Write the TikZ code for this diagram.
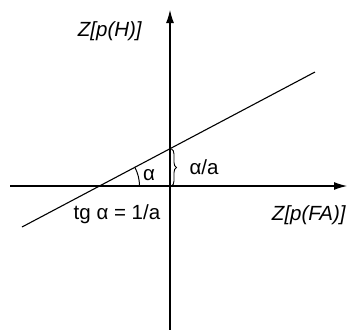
\documentclass[tikz,border=0pt]{standalone}
\usepackage{fontspec}
\setmainfont{Liberation Sans}
\usetikzlibrary{arrows.meta,decorations.pathreplacing,angles}
\begin{document}
\begin{tikzpicture}[x=1pt,y=-1pt,font=\fontsize{20.5}{24}\selectfont,
  axis/.style={line width=1.1pt,-{Latex[length=13pt,width=8pt]}},
  lbl/.style={inner sep=0pt}]
 \useasboundingbox (0,0) rectangle (349,330);
 % axes
 \coordinate (xl) at (10,186); \coordinate (xr) at (347,186);
 \coordinate (yb) at (170,330); \coordinate (yt) at (170,10);
 \draw[axis] (xl) -- (xr); \draw[axis] (yb) -- (yt);
 % line and its crossings
 \coordinate (ll) at (22,227); \coordinate (lr) at (315,72);
 \draw[line width=1.1pt] (ll) -- (lr);
 \coordinate (cx) at (99.5,186); \coordinate (cy) at (170,149);
 \coordinate (o) at (170,186);
 \pic[draw,line width=1pt,angle radius=40pt]{angle=xr--cx--lr};
 \draw[line width=0.9pt,decorate,decoration={brace,amplitude=5pt}] ([xshift=1.5pt]cy) -- ([xshift=1.5pt]o);
 % labels
 \node[lbl] (zh) at (110,31) {\textit{Z[p(H)]}};
 \node[lbl] (zfa) at (309,215) {\textit{Z[p(FA)]}};
 \node[lbl] (al) at (149,175) {α};
 \node[lbl] (ala) at (204,167) {α/a};
 \node[lbl] (tg) at (117,214) {tg α = 1/a};
\end{tikzpicture}
\end{document}
